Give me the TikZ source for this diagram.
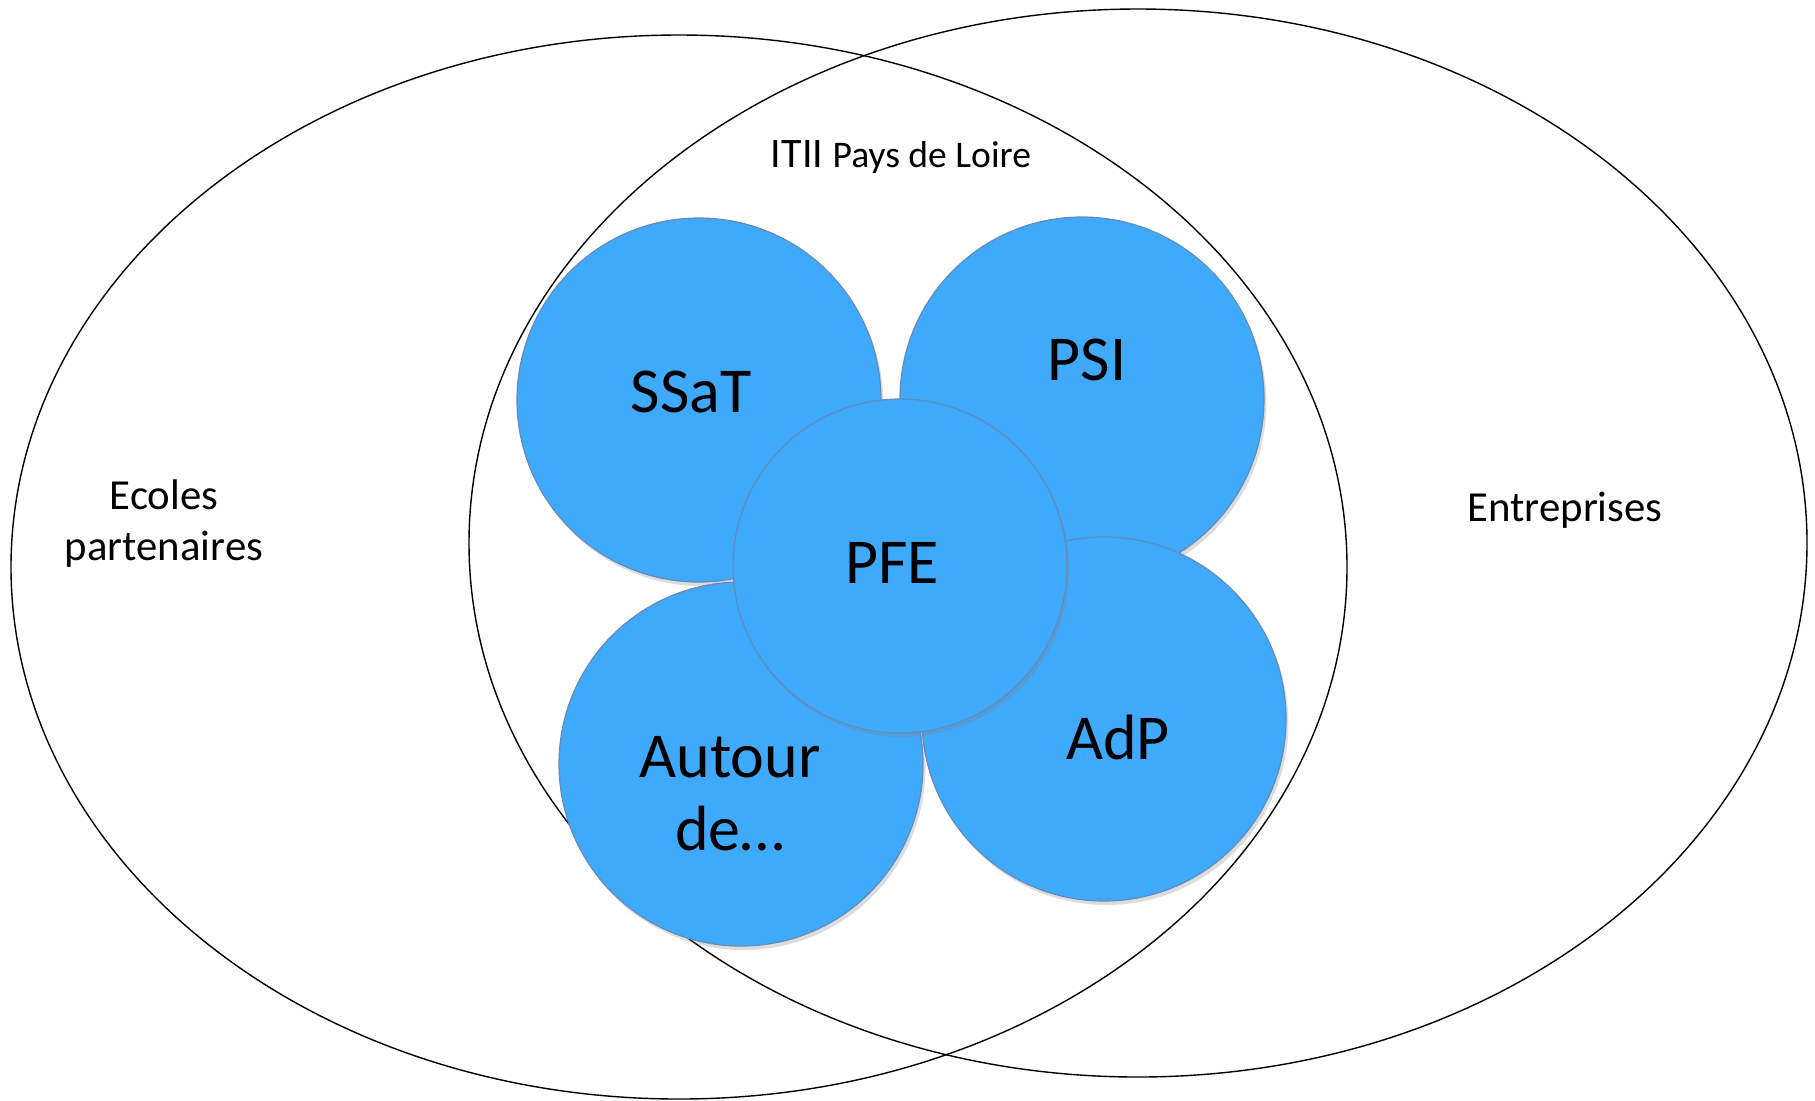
\documentclass[tikz,border=0pt]{standalone}
\usepackage{fontspec}
\setmainfont{Carlito}
\usetikzlibrary{shadows}

\definecolor{bubbleblue}{RGB}{63,169,252}
\definecolor{bubbleline}{RGB}{98,140,190}

\tikzset{
  bubble/.style={circle, draw=bubbleline, line width=0.6pt, fill=bubbleblue,
    inner sep=0pt, drop shadow={opacity=0.28, shadow xshift=1.2pt, shadow yshift=-2pt}},
  bigtext/.style={font=\fontsize{32}{36.5}\selectfont, inner sep=0.75pt, anchor=base},
  smalltext/.style={font=\fontsize{21.4}{25.5}\selectfont, inner sep=0.75pt, anchor=base}
}

\begin{document}
\begin{tikzpicture}[x=0.5pt,y=0.5pt,yscale=-1,xscale=1]
\useasboundingbox (0,0) rectangle (1815,1100);

%Shape: Ellipse [left]
\draw [line width=0.7pt] (679,567) ellipse [x radius=334pt, y radius=266pt];
%Shape: Ellipse [right]
\draw [line width=0.7pt] (1138,543) ellipse [x radius=334.5pt, y radius=267pt];

%Shape: Circle
\node [bubble, minimum size=182pt] (ssat) at (699,400) {};
%Shape: Circle
\node [bubble, minimum size=182pt] (psi) at (1082,399) {};
%Shape: Circle
\node [bubble, minimum size=182pt] (adp) at (1104,719) {};
%Shape: Circle
\node [bubble, minimum size=182pt] (autour) at (741,764) {};
%Shape: Circle
\node [bubble, minimum size=167pt] (pfe) at (900,566) {};

% Text Node
\node [smalltext] (itii) at (901,167) {\fontsize{21}{24}\selectfont ITII \fontsize{18.8}{22}\selectfont Pays de Loire};
% Text Node
\node [smalltext, align=center] (ecoles) at (164,560) {Ecoles\\partenaires};
% Text Node
\node [smalltext] (entreprises) at (1565,521) {Entreprises};
% Text Node
\node [bigtext] (lssat) at (691,412) {SSaT};
% Text Node
\node [bigtext] (lpsi) at (1087,380) {PSI};
% Text Node
\node [bigtext] (lpfe) at (892,583) {PFE};
% Text Node
\node [bigtext] (ladp) at (1118,759) {AdP};
% Text Node
\node [bigtext, align=center] (lautour) at (730,850) {Autour\\de…};

\end{tikzpicture}
\end{document}
